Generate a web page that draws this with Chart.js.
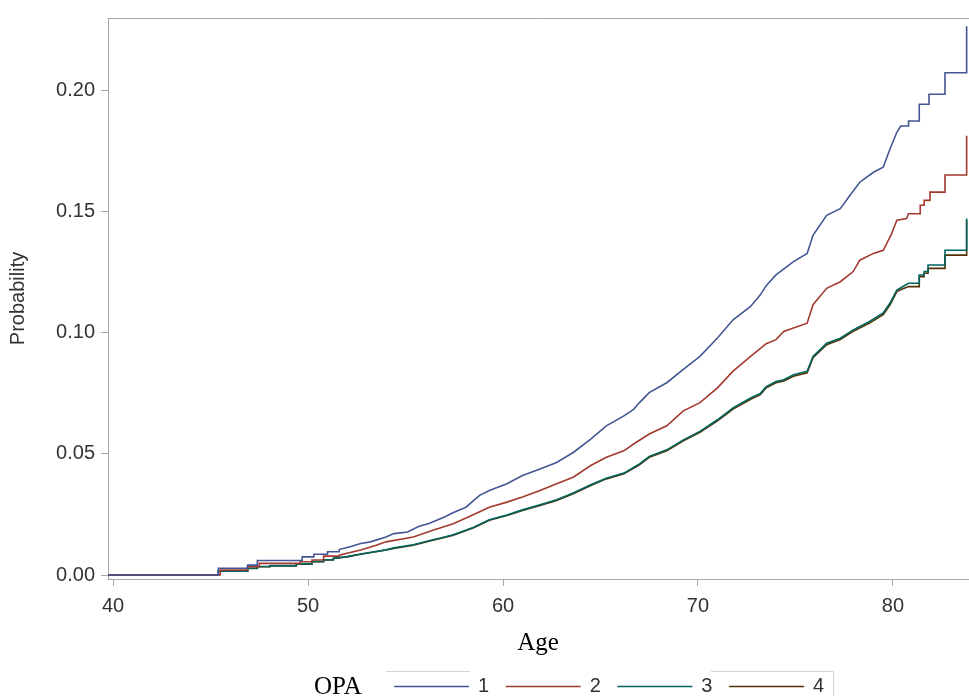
<!DOCTYPE html>
<html>
<head>
<meta charset="utf-8">
<script src="https://cdn.jsdelivr.net/npm/chart.js@4.4.1/dist/chart.umd.min.js"></script>
<style>
  html, body { margin: 0; padding: 0; background: #ffffff; }
  #wrap { width: 969px; height: 696px; position: relative; }
</style>
</head>
<body>
<div id="wrap"><canvas id="c"></canvas></div>
<script>
// ---- data ----
const seriesLabels = ['1', '2', '3', '4'];
const seriesColors = ['#445694', '#A23A2E', '#01665E', '#543005'];
const legendTitle = 'OPA';
const xTitle = 'Age';
const yTitle = 'Probability';
const xTicks = [40, 50, 60, 70, 80];
const yTicks = [0, 0.05, 0.10, 0.15, 0.20];

// repeated age = vertical step
const ages1 = [39.75, 45.4, 45.4, 46.9, 46.9, 47.4, 47.4, 49.7, 49.7, 50.3, 50.3, 51.0, 51.0, 51.6, 51.6,
  52.2, 52.7, 53.2, 54.0, 54.4, 55.1, 55.7, 56.2, 56.6, 57.0, 57.4, 58.1, 58.5, 58.8, 59.3, 60.2, 61.0, 61.9,
  62.75, 63.6, 64.5, 65.3, 66.2, 66.7, 67.0, 67.5, 68.4, 69.25, 70.1, 71.0, 71.8, 72.7, 73.2, 73.5, 74.0,
  74.9, 75.6, 75.9, 76.6, 77.3, 77.8, 78.3, 79.0, 79.5, 79.85, 80.2, 80.4,
  80.8, 80.8, 81.35, 81.35, 81.85, 81.85, 82.67, 82.67, 83.78, 83.78];
const probs1 = [0, 0, 0.0028, 0.0028, 0.0041, 0.0041, 0.0060, 0.0060, 0.0075, 0.0075, 0.0086, 0.0086, 0.0096, 0.0096, 0.0105,
  0.0118, 0.0130, 0.0137, 0.0157, 0.0171, 0.0178, 0.0201, 0.0213, 0.0226, 0.0240, 0.0256, 0.0280, 0.0308, 0.0329, 0.0349, 0.0377, 0.0411, 0.0438,
  0.0465, 0.0506, 0.0561, 0.0616, 0.0657, 0.0684, 0.0712, 0.0753, 0.0794, 0.0849, 0.0903, 0.0979, 0.1054, 0.1109, 0.1157, 0.1195, 0.1239,
  0.1294, 0.1328, 0.1403, 0.1485, 0.1513, 0.1568, 0.1622, 0.1663, 0.1684, 0.1759, 0.1828, 0.1854,
  0.1854, 0.1875, 0.1875, 0.1944, 0.1944, 0.1985, 0.1985, 0.2074, 0.2074, 0.2266];

const ages2 = [39.75, 45.5, 45.5, 46.9, 46.9, 47.5, 47.5, 49.6, 49.6, 50.2, 50.2, 50.8, 50.8, 51.6, 51.6,
  52.7, 53.5, 54.0, 55.4, 56.4, 57.45, 58.5, 59.3, 60.2, 61.0, 61.9, 62.75, 63.6, 64.5, 65.3, 66.2, 66.7,
  67.5, 68.4, 69.25, 70.1, 71.0, 71.8, 72.7, 73.5, 74.0, 74.4, 74.9, 75.6, 75.9, 76.6, 77.3, 77.96, 78.3,
  79.0, 79.5, 79.9, 80.2, 80.7, 80.8,
  81.4, 81.4, 81.6, 81.6, 81.9, 81.9, 82.67, 82.67, 83.78, 83.78];
const probs2 = [0, 0, 0.0021, 0.0021, 0.0034, 0.0034, 0.0048, 0.0048, 0.0055, 0.0055, 0.0062, 0.0062, 0.0078, 0.0078, 0.0082,
  0.0103, 0.0123, 0.0137, 0.0157, 0.0185, 0.0212, 0.0250, 0.0280, 0.0301, 0.0322, 0.0349, 0.0377, 0.0404, 0.0452, 0.0486, 0.0513, 0.0541,
  0.0582, 0.0616, 0.0678, 0.0712, 0.0773, 0.0842, 0.0903, 0.0955, 0.0972, 0.1006, 0.1020, 0.1040, 0.1116, 0.1184, 0.1211, 0.1253, 0.1300,
  0.1328, 0.1341, 0.1403, 0.1465, 0.1472, 0.1492,
  0.1492, 0.1527, 0.1527, 0.1547, 0.1547, 0.1581, 0.1581, 0.1652, 0.1652, 0.1814];

const ages3 = [39.75, 45.4, 45.4, 46.9, 46.9, 47.4, 47.4, 48.05, 48.05, 49.4, 49.4, 50.2, 50.2, 50.8, 50.8, 51.3, 51.3,
  52.0, 52.7, 54.0, 54.4, 55.4, 56.4, 56.8, 57.45, 58.5, 59.3, 60.2, 61.0, 61.9, 62.75, 63.6, 64.5, 65.3, 66.2,
  67.0, 67.5, 68.4, 69.25, 70.1, 71.0, 71.8, 72.7, 73.2, 73.5, 74.0, 74.4, 74.9, 75.6, 75.9, 76.6, 77.3, 77.96,
  78.8, 79.5, 79.85, 80.2, 80.36, 80.8,
  81.35, 81.35, 81.6, 81.6, 81.8, 81.8, 82.67, 82.67, 83.78, 83.78];
const probs3 = [0, 0, 0.0016, 0.0016, 0.0028, 0.0028, 0.0035, 0.0035, 0.0039, 0.0039, 0.0046, 0.0046, 0.0056, 0.0056, 0.0063, 0.0063, 0.0069,
  0.0076, 0.0087, 0.0104, 0.0112, 0.0125, 0.0146, 0.0153, 0.0166, 0.0197, 0.0228, 0.0248, 0.0269, 0.0290, 0.0311, 0.0339, 0.0373, 0.0400, 0.0421,
  0.0459, 0.0490, 0.0517, 0.0558, 0.0593, 0.0641, 0.0690, 0.0731, 0.0750, 0.0778, 0.0799, 0.0806, 0.0827, 0.0841, 0.0903, 0.0957, 0.0978, 0.1012,
  0.1047, 0.1082, 0.1123, 0.1177, 0.1184, 0.1205,
  0.1205, 0.1239, 0.1239, 0.1253, 0.1253, 0.1280, 0.1280, 0.1341, 0.1341, 0.1472];

const ages4 = [39.75, 45.4, 45.4, 46.9, 46.9, 47.4, 47.4, 48.05, 48.05, 49.4, 49.4, 50.2, 50.2, 50.8, 50.8, 51.3, 51.3,
  52.0, 52.7, 54.0, 54.4, 55.4, 56.4, 56.8, 57.45, 58.5, 59.3, 60.2, 61.0, 61.9, 62.75, 63.6, 64.5, 65.3, 66.2,
  67.0, 67.5, 68.4, 69.25, 70.1, 71.0, 71.8, 72.7, 73.2, 73.5, 74.0, 74.4, 74.9, 75.6, 75.9, 76.6, 77.3, 77.96,
  78.8, 79.5, 79.85, 80.2, 80.36, 80.8,
  81.35, 81.35, 81.6, 81.6, 81.8, 81.8, 82.67, 82.67, 83.78, 83.78];
const probs4 = [0, 0, 0.0016, 0.0016, 0.0027, 0.0027, 0.0034, 0.0034, 0.0038, 0.0038, 0.0045, 0.0045, 0.0055, 0.0055, 0.0062, 0.0062, 0.0068,
  0.0075, 0.0086, 0.0103, 0.0110, 0.0123, 0.0144, 0.0151, 0.0164, 0.0195, 0.0226, 0.0246, 0.0267, 0.0287, 0.0308, 0.0336, 0.0370, 0.0397, 0.0418,
  0.0455, 0.0486, 0.0513, 0.0554, 0.0589, 0.0637, 0.0685, 0.0726, 0.0745, 0.0773, 0.0794, 0.0801, 0.0821, 0.0835, 0.0897, 0.0951, 0.0972, 0.1006,
  0.1040, 0.1075, 0.1116, 0.1170, 0.1177, 0.1191,
  0.1191, 0.1232, 0.1232, 0.1246, 0.1246, 0.1266, 0.1266, 0.1321, 0.1321, 0.1465];

const allAges = [ages1, ages2, ages3, ages4];
const allProbs = [probs1, probs2, probs3, probs4];

// ---- styling ----
const AXIS = '#a6a6a6';
const TXT = '#333333';
const SANS = '"Liberation Sans", Arial, sans-serif';
const SERIF = '"Liberation Serif", "Times New Roman", serif';

const datasets = seriesLabels.map((lab, i) => ({
  label: lab,
  data: allAges[i].map((a, j) => ({ x: a, y: allProbs[i][j] })),
  borderColor: seriesColors[i],
  borderWidth: 1.6,
  pointRadius: 0,
  fill: false,
  tension: 0,
  borderJoinStyle: 'miter'
}));

const frameAndLegend = {
  id: 'frameAndLegend',
  afterDraw(chart) {
    const ctx = chart.ctx;
    const ca = chart.chartArea;
    ctx.save();
    // top frame line
    ctx.strokeStyle = AXIS;
    ctx.lineWidth = 1;
    ctx.beginPath();
    ctx.moveTo(ca.left, Math.round(ca.top) + 0.5);
    ctx.lineTo(chart.width, Math.round(ca.top) + 0.5);
    ctx.stroke();

    // faint legend frame fragments
    ctx.strokeStyle = '#d4d4d4';
    ctx.beginPath();
    ctx.moveTo(386, 671.5); ctx.lineTo(470, 671.5);
    ctx.moveTo(711, 671.5); ctx.lineTo(833.5, 671.5); ctx.lineTo(833.5, 696);
    ctx.stroke();

    // legend title
    ctx.fillStyle = '#000000';
    ctx.font = '25px ' + SERIF;
    ctx.textAlign = 'left';
    ctx.textBaseline = 'alphabetic';
    ctx.fillText(legendTitle, 314, 694);

    // legend items
    const ly = 686.5;
    ctx.font = '20px ' + SANS;
    ctx.textBaseline = 'middle';
    ctx.textAlign = 'center';
    seriesLabels.forEach((lab, i) => {
      const x0 = 394 + i * 111.7;
      ctx.strokeStyle = seriesColors[i];
      ctx.lineWidth = 1.6;
      ctx.beginPath();
      ctx.moveTo(x0, ly);
      ctx.lineTo(x0 + 75, ly);
      ctx.stroke();
      ctx.fillStyle = TXT;
      ctx.fillText(lab, x0 + 89.5, ly);
    });
    ctx.restore();
  }
};

Chart.defaults.font.family = SANS;
Chart.defaults.color = TXT;

new Chart(document.getElementById('c'), {
  type: 'line',
  data: { datasets },
  options: {
    responsive: true,
    maintainAspectRatio: false,
    animation: false,
    events: [],
    layout: { padding: { top: 14, right: 1, left: 0, bottom: 0 } },
    plugins: { legend: { display: false }, tooltip: { enabled: false } },
    scales: {
      x: {
        type: 'linear',
        min: 39.74,
        max: 83.85,
        afterBuildTicks: s => { s.ticks = xTicks.map(v => ({ value: v })); },
        afterFit: s => { s.height = 696 - 579; },
        ticks: { color: TXT, font: { size: 20 }, padding: 8, maxRotation: 0, autoSkip: false,
                 callback: v => String(v) },
        grid: { drawOnChartArea: false, drawTicks: true, tickLength: 7, color: AXIS },
        border: { display: true, color: AXIS, width: 1 },
        title: { display: true, text: xTitle, color: '#000000',
                 font: { family: SERIF, size: 25 }, padding: { top: 0, bottom: 38 } }
      },
      y: {
        type: 'linear',
        min: -0.00164,
        max: 0.23,
        afterBuildTicks: s => { s.ticks = yTicks.map(v => ({ value: v })); },
        afterFit: s => { s.width = 108; },
        ticks: { color: TXT, font: { size: 20 }, padding: 6, autoSkip: false,
                 callback: v => Number(v).toFixed(2) },
        grid: { drawOnChartArea: false, drawTicks: true, tickLength: 7, color: AXIS },
        border: { display: true, color: AXIS, width: 1 },
        title: { display: true, text: yTitle, color: TXT,
                 font: { family: SANS, size: 20 }, padding: { top: 6, bottom: 0 } }
      }
    }
  },
  plugins: [frameAndLegend]
});
</script>
</body>
</html>
